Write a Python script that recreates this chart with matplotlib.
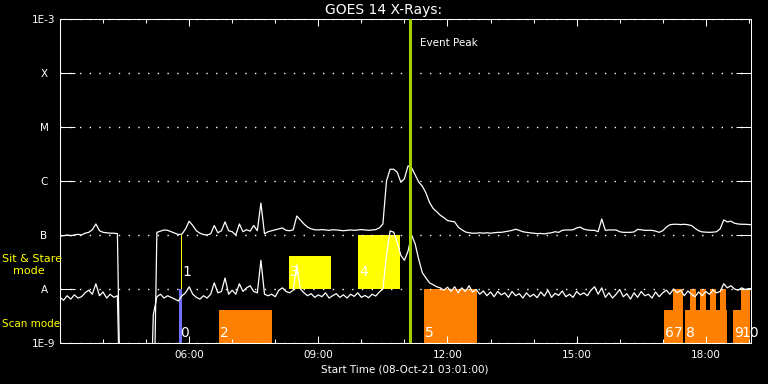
import numpy as np
import matplotlib
matplotlib.use('Agg')
import matplotlib.pyplot as plt
from matplotlib.ticker import FixedLocator, NullLocator

# GOES 14 flux, 5 minute samples starting 03:00, units of 1e-9 W/m^2
minutes = np.arange(0, 970, 5)
hours = 3 + minutes / 60.0

# 1-8 A channel (upper curve); 0.01 = no data (drops off the plot)
long_flux = [
    96, 97, 100, 97, 100, 103, 100, 108, 112, 125,
    160, 120, 112, 110, 108, 108, 106, 0.01, 0.01, 0.01,
    0.01, 0.01, 0.01, 0.01, 0.01, 0.01, 0.01, 112, 118, 124,
    122, 115, 108, 102, 104, 130, 180, 150, 120, 108,
    102, 100, 105, 150, 110, 120, 175, 120, 115, 100,
    160, 115, 125, 118, 150, 120, 390, 105, 115, 120,
    125, 130, 135, 122, 120, 125, 225, 190, 160, 140,
    130, 125, 124, 126, 124, 122, 125, 124, 122, 120,
    122, 124, 122, 124, 126, 124, 122, 124, 126, 135,
    160, 1000, 1650, 1650, 1450, 950, 1100, 1900, 1750, 1300,
    950, 800, 600, 400, 310, 270, 232, 210, 185, 180,
    175, 140, 125, 114, 110, 108, 108, 110, 108, 110,
    108, 110, 112, 112, 115, 118, 122, 128, 122, 115,
    112, 110, 108, 106, 107, 105, 108, 110, 115, 112,
    122, 124, 124, 125, 135, 140, 128, 124, 122, 122,
    115, 198, 122, 124, 124, 124, 115, 112, 112, 112,
    114, 127, 125, 122, 122, 122, 118, 112, 120, 140,
    155, 158, 158, 156, 158, 155, 150, 133, 120, 114,
    113, 112, 113, 115, 130, 190, 175, 180, 165, 160,
    158, 158, 156, 156,
]

# 0.5-4 A channel (lower curve)
short_flux = [
    7.0, 6.2, 7.5, 6.5, 7.8, 6.8, 7.2, 8.5, 9.5, 8.0,
    12.5, 7.5, 8.8, 6.8, 8.0, 7.0, 7.5, 0.01, 0.01, 0.01,
    0.01, 0.01, 0.01, 0.01, 0.01, 0.01, 3.3, 7.2, 8.0, 6.8,
    7.5, 7.0, 6.5, 6.0, 7.5, 8.5, 11.0, 8.0, 7.0, 6.5,
    7.5, 6.8, 8.0, 13.0, 8.5, 9.0, 16.0, 8.0, 9.5, 8.0,
    12.5, 9.0, 10.5, 11.5, 9.0, 8.5, 34.0, 8.0, 7.5, 8.0,
    7.2, 9.5, 10.5, 9.0, 8.5, 9.5, 28.0, 10.0, 8.5, 7.5,
    8.2, 7.0, 7.8, 7.2, 8.5, 6.8, 7.5, 8.2, 7.0, 7.8,
    6.8, 8.0, 7.3, 8.5, 7.0, 7.6, 6.9, 8.0, 7.4, 8.8,
    10.0, 42.0, 119.0, 113.0, 72.0, 42.0, 34.0, 50.0, 100.0, 68.0,
    35.0, 20.0, 16.0, 13.0, 12.0, 11.0, 10.5, 9.5, 10.8, 9.0,
    11.0, 8.5, 10.5, 9.0, 11.5, 8.8, 9.8, 8.0, 9.2, 7.5,
    8.8, 7.2, 9.0, 7.8, 8.5, 7.0, 9.0, 7.5, 8.2, 6.8,
    8.5, 7.2, 8.0, 6.9, 8.8, 7.4, 9.5, 7.0, 8.3, 7.6,
    9.2, 7.2, 8.0, 7.0, 9.0, 7.8, 8.5, 7.5, 9.5, 11.0,
    8.0, 10.5, 7.0, 8.5, 6.8, 8.0, 9.8, 7.2, 8.2, 6.5,
    8.5, 7.0, 9.0, 7.5, 8.0, 6.8, 8.8, 7.2, 8.5, 9.5,
    8.0, 10.0, 8.5, 9.5, 7.5, 9.2, 8.0, 7.2, 8.8, 7.5,
    9.0, 8.0, 9.5, 8.5, 9.0, 12.5, 10.5, 11.5, 10.0, 9.5,
    10.5, 9.8, 10.2, 10.0,
]

level_values = [1e-9, 1e-8, 1e-7, 1e-6, 1e-5, 1e-4, 1e-3]
level_labels = ['1E-9', 'A', 'B', 'C', 'M', 'X', '1E-3']
hour_ticks = [6, 9, 12, 15, 18]
hour_labels = ['06:00', '09:00', '12:00', '15:00', '18:00']

# observing blocks
block_labels = ['0', '1', '2', '3', '4', '5', '6', '7', '8', '9', '10']
block_start = [5.76, 5.81, 6.69, 8.32, 9.92, 11.45, 17.02, 17.23, 17.51, 18.63, 18.81]
block_end = [5.83, 5.83, 7.92, 9.29, 10.89, 12.68, 17.47, 17.47, 18.49, 19.02, 19.02]
block_low = [1e-9, 1e-8, 1e-9, 1e-8, 1e-8, 1e-9, 1e-9, 1e-9, 1e-9, 1e-9, 1e-9]
block_high = [1e-8, 1e-7, 4e-9, 4e-8, 1e-7, 1e-8, 4e-9, 1e-8, 4e-9, 4e-9, 1e-8]
block_mode = ['scan', 'sit', 'scan', 'sit', 'sit', 'scan', 'scan', 'scan', 'scan', 'scan', 'scan']
block_color = ['#6e6eff', '#ffff00', '#ff8000', '#ffff00', '#ffff00', '#ff8000',
               '#ff8000', '#ff8000', '#ff8000', '#ff8000', '#ff8000']
# raised steps inside block 8
step_start = [17.63, 17.86, 18.09, 18.33]
step_end = [17.77, 18.00, 18.23, 18.47]

peak_hour = 11.12

fig = plt.figure(figsize=(7.68, 3.84), dpi=100, facecolor='black')
ax = fig.add_axes([60 / 768, 1 - 343 / 384, 691 / 768, 324 / 384])
ax.set_facecolor('black')
ax.set_yscale('log')

w = [e - s for s, e in zip(block_start, block_end)]
h = [hi - lo for lo, hi in zip(block_low, block_high)]
ax.bar(block_start, h, width=w, bottom=block_low, align='edge',
       color=block_color, linewidth=0, zorder=1)
ax.bar(step_start, [9e-9] * len(step_start),
       width=[e - s for s, e in zip(step_start, step_end)],
       bottom=1e-9, align='edge', color='#ff8000', linewidth=0, zorder=1)

row_y = {'scan': 1.53e-9, 'sit': 2.06e-8}
for lab, s, m in zip(block_labels, block_start, block_mode):
    ax.annotate(lab, (s, row_y[m]), xytext=(0.8, 0), textcoords='offset points',
                color='white', fontsize=10, va='center', ha='left', zorder=5)

ax.plot(hours, np.array(long_flux) * 1e-9, color='white', lw=0.9, zorder=3)
ax.plot(hours, np.array(short_flux) * 1e-9, color='white', lw=0.9, zorder=3)

ax.axvline(peak_hour, color='#a0d000', lw=2.2, zorder=4)
ax.text(peak_hour + 0.24, 10 ** -3.444, 'Event Peak', color='white',
        fontsize=7.5, va='center', ha='left')

ax.set_xlim(3.0, 19.05)
ax.set_ylim(1e-9, 1e-3)
ax.set_yticks(level_values, level_labels)
ax.yaxis.set_minor_locator(NullLocator())
ax.tick_params(axis='y', which='major', direction='in', length=10.8, width=0.75,
               colors='white', left=True, right=True, labelsize=7.5, pad=11.5)
for lbl in ax.get_yticklabels():
    lbl.set_ha('center')
ax.set_xticks(hour_ticks, hour_labels)
ax.xaxis.set_minor_locator(FixedLocator([x for x in range(4, 20) if x % 3]))
ax.tick_params(axis='x', which='major', direction='in', length=5, width=0.75,
               colors='white', top=True, bottom=True, labelsize=7.5, pad=5)
ax.tick_params(axis='x', which='minor', direction='in', length=3, width=0.75,
               colors='white', top=True, bottom=True)
ax.grid(axis='y', which='major', color='white', lw=1.0, linestyle=(0, (1, 6)))
for s in ax.spines.values():
    s.set_color('white')
    s.set_linewidth(0.75)

fig.text(0.5, 1 - 10 / 384, 'GOES 14 X-Rays:', color='white', fontsize=10,
         ha='center', va='center')
fig.text(405 / 768, 1 - 369 / 384, 'Start Time (08-Oct-21 03:01:00)', color='white',
         fontsize=7.5, ha='center', va='center')
fig.text(2 / 768, 1 - 259 / 384, 'Sit & Stare', color='#ffff00', fontsize=8,
         ha='left', va='center')
fig.text(13 / 768, 1 - 271 / 384, 'mode', color='#ffff00', fontsize=8,
         ha='left', va='center')
fig.text(2 / 768, 1 - 324 / 384, 'Scan mode', color='#ffff00', fontsize=7.5,
         ha='left', va='center')

fig.savefig('out.png', dpi=100, facecolor='black')
